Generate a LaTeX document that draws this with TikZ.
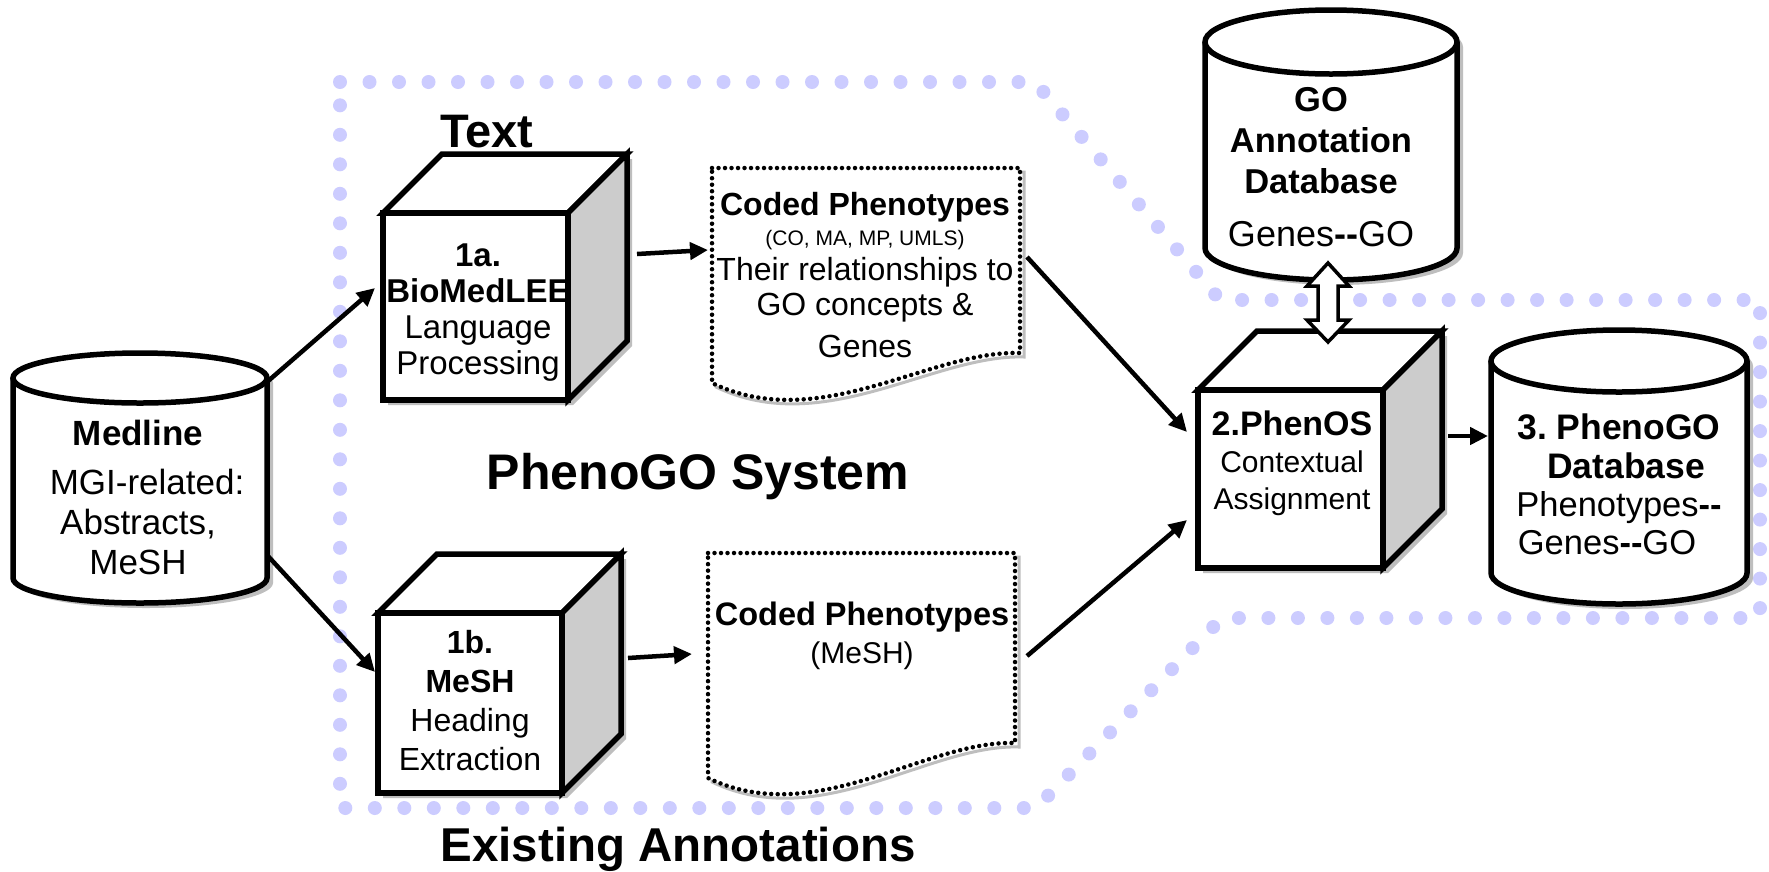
\documentclass[tikz,border=0pt]{standalone}
\usepackage{fontspec}
\setmainfont{Liberation Sans}
\usetikzlibrary{arrows.meta,calc}
\definecolor{bnd}{RGB}{204,204,255}
\definecolor{sidegray}{RGB}{204,204,204}
\definecolor{shadowgray}{RGB}{190,190,190}
\newcommand\fs[2]{\fontsize{#1}{#2}\selectfont}
\newcommand\drawcyl[5]{% cx rx yt yb ry
  \fill[shadowgray, shift={(6,5)}] (#1-#2,#3) -- (#1-#2,#4) arc[start angle=180,end angle=0,x radius=#2,y radius=#5] -- (#1+#2,#3) arc[start angle=0,end angle=-180,x radius=#2,y radius=#5] -- cycle;
  \fill[white] (#1-#2,#3) -- (#1-#2,#4) arc[start angle=180,end angle=0,x radius=#2,y radius=#5] -- (#1+#2,#3) arc[start angle=0,end angle=-180,x radius=#2,y radius=#5] -- cycle;
  \draw[shapeline] (#1-#2,#3) -- (#1-#2,#4) arc[start angle=180,end angle=0,x radius=#2,y radius=#5] -- (#1+#2,#3);
  \draw[shapeline] (#1,#3) ellipse[x radius=#2,y radius=#5];
}
\newcommand\drawcube[6]{% name L T R B d
  \fill[shadowgray, shift={(5,5)}] (#2,#3) -- (#2+#6,#3-#6) -- (#4+#6,#3-#6) -- (#4+#6,#5-#6) -- (#4,#5) -- (#2,#5) -- cycle;
  \node[front, minimum width={#4-#2}, minimum height={#5-#3}] (#1) at ({(#2+#4)/2},{(#3+#5)/2}) {};
}
\newcommand\cubefaces[2]{% name d
  \draw[shapeline, fill=white] (#1.north west) -- ++(#2,-#2) -- ([shift={(#2,-#2)}]#1.north east) -- (#1.north east) -- cycle;
  \draw[shapeline, fill=sidegray] (#1.north east) -- ++(#2,-#2) -- ([shift={(#2,-#2)}]#1.south east) -- (#1.south east) -- cycle;
  \draw[shapeline] (#1.north west) rectangle (#1.south east);
}
\newcommand\drawdoc[5]{% L T R Br Bl
  \draw[shadowgray, line width=3pt, shift={(4,4)}] (#1,#2) -- (#3,#2) -- (#3,#4) .. controls (#3-90,#4-3) and (#1+108,#5+52) .. (#1,#5) -- cycle;
  \fill[white] (#1,#2) -- (#3,#2) -- (#3,#4) .. controls (#3-90,#4-3) and (#1+108,#5+52) .. (#1,#5) -- cycle;
  \draw[docline] (#1,#2) -- (#3,#2) -- (#3,#4) .. controls (#3-90,#4-3) and (#1+108,#5+52) .. (#1,#5) -- cycle;
}
\begin{document}
\begin{tikzpicture}[x=1pt,y=-1pt,
  shapeline/.style={line width=5.5pt, line join=miter},
  front/.style={draw, line width=5.5pt, fill=white, inner sep=0pt, outer sep=0pt},
  area/.style={inner sep=0pt, outer sep=0pt},
  lbl/.style={inner sep=0pt, outer sep=0pt, align=center},
  arr/.style={line width=4.5pt, -{Triangle[length=18pt,width=17pt]}},
  boundary/.style={draw=bnd, line width=14pt, line cap=round, dash pattern=on 0pt off 29.5pt},
  docline/.style={line width=4.5pt, line cap=round, dash pattern=on 0pt off 6.5pt},
  dblarrow/.style={line width=3.5pt, fill=white, line join=miter}]
\useasboundingbox[fill=white] (0,0) rectangle (1769,871);

% system boundary
\draw[boundary] (340,82) -- (1035,82) -- (1220,300) -- (1760,300) -- (1760,618) -- (1222,618) -- (1036,808) -- (340,808) -- cycle;

% labels
\node[lbl, anchor=base, font=\fs{47}{50}\bfseries] (textlbl) at (487,147) {Text};
\node[lbl, anchor=base, font=\fs{50}{55}\bfseries] (syslbl) at (698,489) {PhenoGO System};
\node[lbl, anchor=base, font=\fs{47.5}{50}\bfseries] (exlbl) at (678,861) {Existing Annotations};

% Medline cylinder
\drawcyl{140}{127}{378}{578}{25}
\node[area, minimum width=254, minimum height=200] (medline) at (140,478) {};
\node[lbl, anchor=north, font=\fs{35}{40}] (medlinetext) at (138,420) {\textbf{Medline}\\[9pt]\hspace*{18pt}MGI-related:\\Abstracts,\\MeSH};

% GO annotation database
\drawcyl{1331}{126}{42}{248}{32}
\node[area, minimum width=252, minimum height=206] (go) at (1331,145) {};
\node[lbl, anchor=north, font=\fs{34.5}{41}] (gotext) at (1321,87) {\textbf{GO}\\\textbf{Annotation}\\\textbf{Database}\\[12pt]{\fs{36}{41}Genes\textbf{-{}-}GO}};

% PhenoGO database
\drawcyl{1619}{128}{361}{573}{31}
\node[area, minimum width=256, minimum height=212] (pgo) at (1619,467) {};
\node[lbl, anchor=north, font=\fs{34.5}{38}] (pgotext) at (1619,414) {{\fs{35.5}{38}\bfseries 3.\ PhenoGO}\\[1pt]{\fs{35.5}{38}\bfseries \hspace*{14pt}Database}\\Phenotypes\textbf{-{}-}\\[0pt]Genes\textbf{-{}-}GO\hspace*{24pt}};

% cube 1a
\drawcube{c1a}{383}{213}{568}{400}{59}
\node[lbl, anchor=north, font=\fs{33}{36}] (c1atext) at (478,244) {\textbf{1a.}\\\textbf{BioMedLEE}\\Language\\Processing};
\cubefaces{c1a}{59}

% cube 1b
\drawcube{c1b}{378}{613}{562}{793}{59}
\node[lbl, anchor=north, font=\fs{32}{39}] (c1btext) at (470,630) {\textbf{1b.}\\\textbf{MeSH}\\Heading\\Extraction};
\cubefaces{c1b}{59}

% cube 2
\drawcube{c2}{1198}{390}{1383}{568}{59}
\node[lbl, anchor=north, font=\fs{30}{37}] (c2text) at (1292,411) {{\fs{34}{37}\bfseries 2.PhenOS}\\Contextual\\Assignment};
\cubefaces{c2}{59}

% documents
\drawdoc{712}{168}{1020}{353}{383}
\node[area, minimum width=308, minimum height=215] (doc1) at (866,275.5) {};
\node[lbl, anchor=north, font=\fs{32}{35}] (doc1text) at (865,192) {{\fs{32}{35}\bfseries Coded Phenotypes}\\[-5pt]{\fs{21}{23}(CO, MA, MP, UMLS)}\\Their relationships to\\GO concepts \&\\[7pt]Genes};

\drawdoc{708}{553}{1015}{743}{778}
\node[area, minimum width=307, minimum height=225] (doc2) at (861.5,665.5) {};
\node[lbl, anchor=north, font=\fs{30}{38}] (doc2text) at (862,602) {{\fs{32.5}{38}\bfseries Coded Phenotypes}\\(MeSH)};

% connectors
\draw[arr] ($(medline.east)+(0,-96)$) -- ($(c1a.west)+(-8,-18.5)$);
\draw[arr] ($(medline.east)+(0,77)$) -- ($(c1b.west)+(-3,-31)$);
\draw[arr] ($(c1a.east)+(69,-52.5)$) -- ($(doc1.west)+(-4,-25.5)$);
\draw[arr] ($(c1b.east)+(66,-45)$) -- ($(doc2.west)+(-16,-11.5)$);
\draw[arr] ($(doc1.east)+(7,-18.5)$) -- ($(c2.west)+(-11,-47)$);
\draw[arr] ($(doc2.east)+(12,-9.5)$) -- ($(c2.west)+(-11,41)$);
\draw[arr] ($(c2.east)+(65,-43)$) -- ($(pgo.west)+(-3,-31)$);

% double block arrow between GO database and PhenOS
\coordinate (dtop) at ($(go.south)+(-3,15)$);
\coordinate (dbot) at ($(c2.north)+(37.5,-48)$);
\draw[dblarrow] (dtop) -- ++(21,23) -- ++(-11,0) -- ($(dbot)+(10,-22)$) -- ++(11,0) -- (dbot) -- ++(-21,-22) -- ++(11,0) -- ($(dtop)+(-10,23)$) -- ++(-11,0) -- cycle;
\end{tikzpicture}
\end{document}
